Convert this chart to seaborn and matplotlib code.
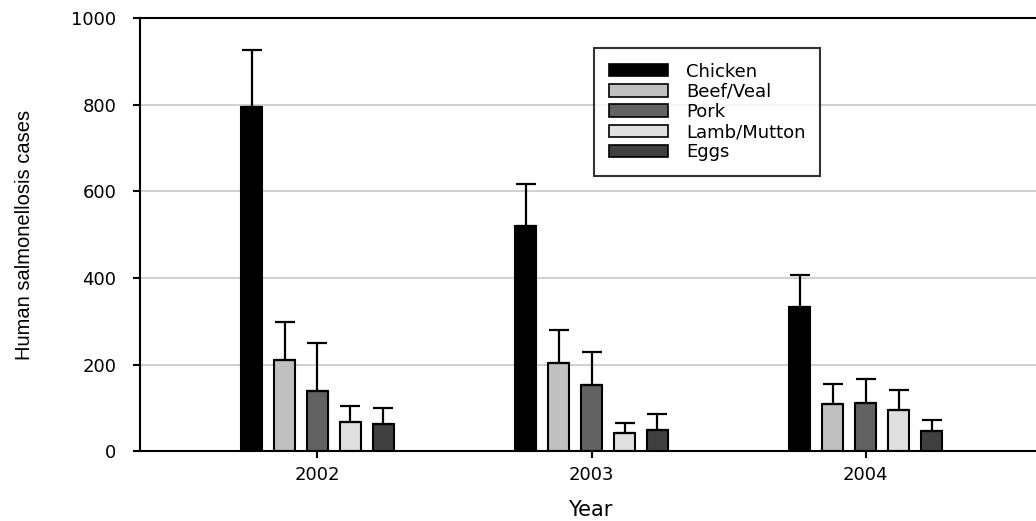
import pandas as pd
import numpy as np
import matplotlib
matplotlib.use('Agg')
import matplotlib.pyplot as plt
import seaborn as sns

# --- Data ---
years = ['2002', '2003', '2004']
meats = ['Chicken', 'Beef/Veal', 'Pork', 'Lamb/Mutton', 'Eggs']
chicken = [795, 520, 333]
beef = [210, 203, 108]
pork = [139, 154, 112]
lamb = [68, 42, 96]
eggs = [62, 48, 47]
# upper error bar lengths
chicken_err = [131, 97, 73]
beef_err = [89, 78, 47]
pork_err = [111, 76, 54]
lamb_err = [36, 23, 45]
eggs_err = [37, 38, 26]

colors = ['#000000', '#c0c0c0', '#626262', '#e0e0e0', '#404040']

values = [chicken, beef, pork, lamb, eggs]
errors = [chicken_err, beef_err, pork_err, lamb_err, eggs_err]
rows = []
for m, vals in zip(meats, values):
    for y, v in zip(years, vals):
        rows.append({'year': y, 'meat': m, 'cases': v})
df = pd.DataFrame(rows)

sns.set_style('white')
plt.rcParams['font.family'] = ['DejaVu Sans']
plt.rcParams['text.color'] = 'black'
plt.rcParams['axes.labelcolor'] = 'black'

fig = plt.figure(figsize=(10.36, 5.21), dpi=100)
ax = fig.add_axes([0.135, 0.134, 0.87, 0.831])

sns.barplot(data=df, x='year', y='cases', hue='meat', order=years, hue_order=meats,
            palette=colors, width=0.6, gap=0.36, edgecolor='black', linewidth=1.5,
            errorbar=None, ax=ax)

# upper-only error bars with caps
for cont, err in zip(ax.containers, errors):
    xs = [p.get_x() + p.get_width() / 2 for p in cont.patches]
    hs = [p.get_height() for p in cont.patches]
    ax.errorbar(xs, hs, yerr=[np.zeros(len(err)), err], fmt='none', ecolor='black',
                elinewidth=1.6, capsize=7, capthick=1.6, zorder=1)

ax.set_xlim(-0.648, 2.64)
ax.set_ylim(0, 1000)
ax.set_yticks([0, 200, 400, 600, 800, 1000])
ax.yaxis.grid(True, color='#c8c8c8', linewidth=1.2)
ax.set_axisbelow(True)
for s in ['left', 'bottom', 'top']:
    ax.spines[s].set_visible(True)
    ax.spines[s].set_color('black')
    ax.spines[s].set_linewidth(1.5)
ax.spines['right'].set_visible(False)
ax.tick_params(axis='both', direction='out', length=5, width=1.5, colors='black',
               labelsize=13, bottom=True, left=True)
ax.tick_params(axis='y', pad=12)
ax.tick_params(axis='x', pad=6)
ax.set_xlabel('Year', fontsize=15, labelpad=11, color='black')
ax.set_ylabel('Human salmonellosis cases', fontsize=14.5, labelpad=27, color='black',
              family=['Liberation Sans Narrow', 'Liberation Sans'])

leg = ax.legend(loc='upper left', bbox_to_anchor=(0.504, 0.931), borderaxespad=0,
                prop={'size': 13}, frameon=True, fancybox=False, edgecolor='black',
                handlelength=3.3, handleheight=0.67, labelspacing=0.12,
                borderpad=0.8, handletextpad=1.0, labelcolor='black')
leg.get_frame().set_linewidth(1.5)
for h in leg.legend_handles:
    h.set_linewidth(1.2)

plt.savefig('out.png', dpi=100)
